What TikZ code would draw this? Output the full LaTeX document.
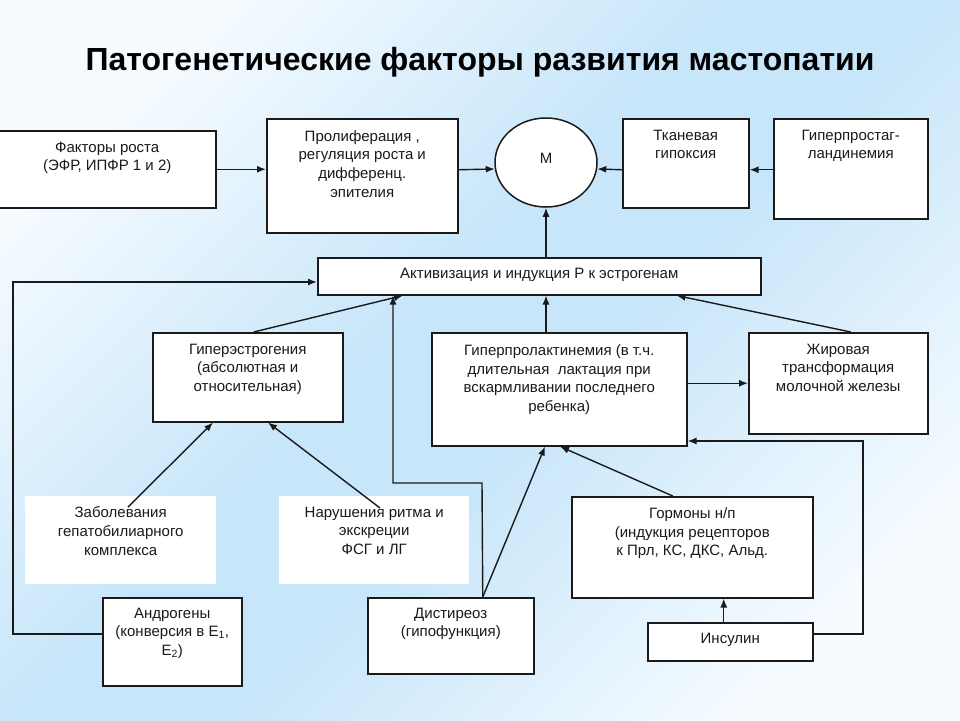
\documentclass[tikz,border=0pt]{standalone}
\usepackage{fontspec}
\setmainfont{Liberation Sans}
\usetikzlibrary{arrows.meta,calc,shapes.geometric}
\definecolor{bgW}{HTML}{F6FBFF}
\definecolor{bgB}{HTML}{C8E6FA}
\definecolor{ink}{HTML}{1A1A1A}
\pgfdeclarehorizontalshading{bgshade}{100bp}{color(0bp)=(bgW); color(24bp)=(bgW); color(45bp)=(bgB); color(55bp)=(bgB); color(76bp)=(bgW); color(100bp)=(bgW)}
\tikzset{
  box/.style={draw=ink, line width=1.5pt, fill=white, inner sep=0pt, anchor=north west},
  wbox/.style={fill=white, draw=none, inner sep=0pt, anchor=north west},
  txt/.style={font=\fontsize{15}{18.7}\selectfont, text=ink, align=center, inner sep=0pt, anchor=north},
  arr/.style={draw=ink, -{Latex[length=9pt,width=7pt]}, line width=1.4pt},
  ttl/.style={font=\fontsize{32}{38}\selectfont\bfseries, text=black, inner sep=0pt},
}
\begin{document}
\begin{tikzpicture}[x=1pt,y=-1pt]
\useasboundingbox (0,0) rectangle (960,720);
\shade[shading=bgshade, shading angle=-45] (0,0) rectangle (960,720);

\node[ttl] (title) at (480,62) {Патогенетические факторы развития мастопатии};

% boxes
\node[box, minimum width=217, minimum height=77] (fak) at (-2,130) {};
\node[box, minimum width=191, minimum height=114] (prol) at (266,118) {};
\node[draw=ink, line width=1.5pt, fill=white, ellipse, inner sep=0pt, minimum width=102, minimum height=89] (M) at (546,162.5) {};
\node[box, minimum width=126, minimum height=89] (tkan) at (622,118) {};
\node[box, minimum width=154, minimum height=100] (hprost) at (773,118) {};
\node[box, minimum width=443, minimum height=37] (akt) at (317,257) {};
\node[box, minimum width=190, minimum height=89] (hest) at (152,332) {};
\node[box, minimum width=255, minimum height=113] (hprl) at (431,332) {};
\node[box, minimum width=179, minimum height=101] (zhir) at (748,332) {};
\node[wbox, minimum width=191, minimum height=88] (zab) at (25,496) {};
\node[wbox, minimum width=190, minimum height=88] (nar) at (279,496) {};
\node[box, minimum width=241, minimum height=101] (gorm) at (571,496) {};
\node[box, minimum width=139, minimum height=88] (andr) at (102,597) {};
\node[box, minimum width=166, minimum height=76] (dist) at (367,597) {};
\node[box, minimum width=165, minimum height=38] (ins) at (647,622) {};

% texts
\node[txt] (tfak) at ($(fak.north)+(0,11.5)$) {Факторы роста\\(ЭФР, ИПФР 1 и 2)};
\node[txt] (tprol) at ($(prol.north)+(0,12)$) {Пролиферация ,\\регуляция роста и\\дифференц.\\эпителия};
\node[txt, anchor=center] (tM) at (546,158) {М};
\node[txt] (ttkan) at ($(tkan.north)+(0,11.5)$) {Тканевая\\гипоксия};
\node[txt] (thprost) at ($(hprost.north)+(0,11.5)$) {Гиперпростаг-\\ландинемия};
\node[txt] (takt) at ($(akt.north)+(0,10.5)$) {Активизация и индукция Р к эстрогенам};
\node[txt] (thest) at ($(hest.north)+(0,11.5)$) {Гиперэстрогения\\(абсолютная и\\относительная)};
\node[txt] (thprl) at ($(hprl.north)+(0,12.5)$) {Гиперпролактинемия (в т.ч.\\длительная~ лактация при\\вскармливании последнего\\ребенка)};
\node[txt] (tzhir) at ($(zhir.north)+(0,11.5)$) {Жировая\\трансформация\\молочной железы};
\node[txt] (tzab) at ($(zab.north)+(0,10.5)$) {Заболевания\\гепатобилиарного\\комплекса};
\node[txt] (tnar) at ($(nar.north)+(0,10.5)$) {Нарушения ритма и\\экскреции\\ФСГ и ЛГ};
\node[txt] (tgorm) at ($(gorm.north)+(0,11.5)$) {Гормоны н/п\\(индукция рецепторов\\к Прл, КС, ДКС, Альд.};
\node[txt] (tandr) at ($(andr.north)+(0,10.5)$) {Андрогены\\(конверсия в E\textsubscript{1},\\E\textsubscript{2})};
\node[txt] (tdist) at ($(dist.north)+(0,10.5)$) {Дистиреоз\\(гипофункция)};
\node[txt] (tins) at ($(ins.north)+(0,10.5)$) {Инсулин};

% connectors
\draw[arr] (fak.east) -- (fak.east -| prol.west);
\draw[arr] ($(prol.east)+(0,-6)$) -- ($(M.west)+(0.5,6.5)$);
\draw[arr] ($(tkan.west)+(0,6.5)$) -- ($(M.east)+(-0.5,6.5)$);
\draw[arr] ($(hprost.west)+(0,1)$) -- ($(tkan.east)+(0,6.5)$);
\draw[arr] (M.south |- akt.north) -- (M.south);
\draw[arr] (M.south |- hprl.north) -- (M.south |- akt.south);
\draw[arr] ($(hest.north)+(6,0)$) -- ($(akt.south west)+(86,0)$);
\coordinate (d1) at (482,483);
\coordinate (d2) at (393,483);
\draw[arr] ($(dist.north)+(32,0)$) -- (d1) -- (d2) -- (d2 |- akt.south);
\draw[arr] ($(dist.north)+(32,0)$) -- ($(hprl.south west)+(114,0)$);
\draw[arr] ($(gorm.north)+(-19.5,0)$) -- ($(hprl.south west)+(129,0)$);
\coordinate (i1) at ($(ins.north)+(-6.5,0)$);
\draw[arr] (i1) -- (i1 |- gorm.south);
\coordinate (c1) at (863,634);
\coordinate (c2) at (863,441);
\draw[arr] (ins.east |- c1) -- (c1) -- (c2) -- (hprl.east |- c2);
\draw[arr] ($(zhir.north)+(12.5,0)$) -- ($(akt.south east)+(-85,0)$);
\draw[arr] (hprl.east |- zhir.west) -- (zhir.west);
\coordinate (a1) at (13,634);
\coordinate (a2) at (13,282);
\draw[arr] (andr.west |- a1) -- (a1) -- (a2) -- (akt.west |- a2);
\draw[arr] ($(zab.north west)+(103,11)$) -- ($(hest.south west)+(61,0)$);
\draw[arr] ($(nar.north west)+(101,12)$) -- ($(hest.south west)+(116,0)$);
\end{tikzpicture}
\end{document}
